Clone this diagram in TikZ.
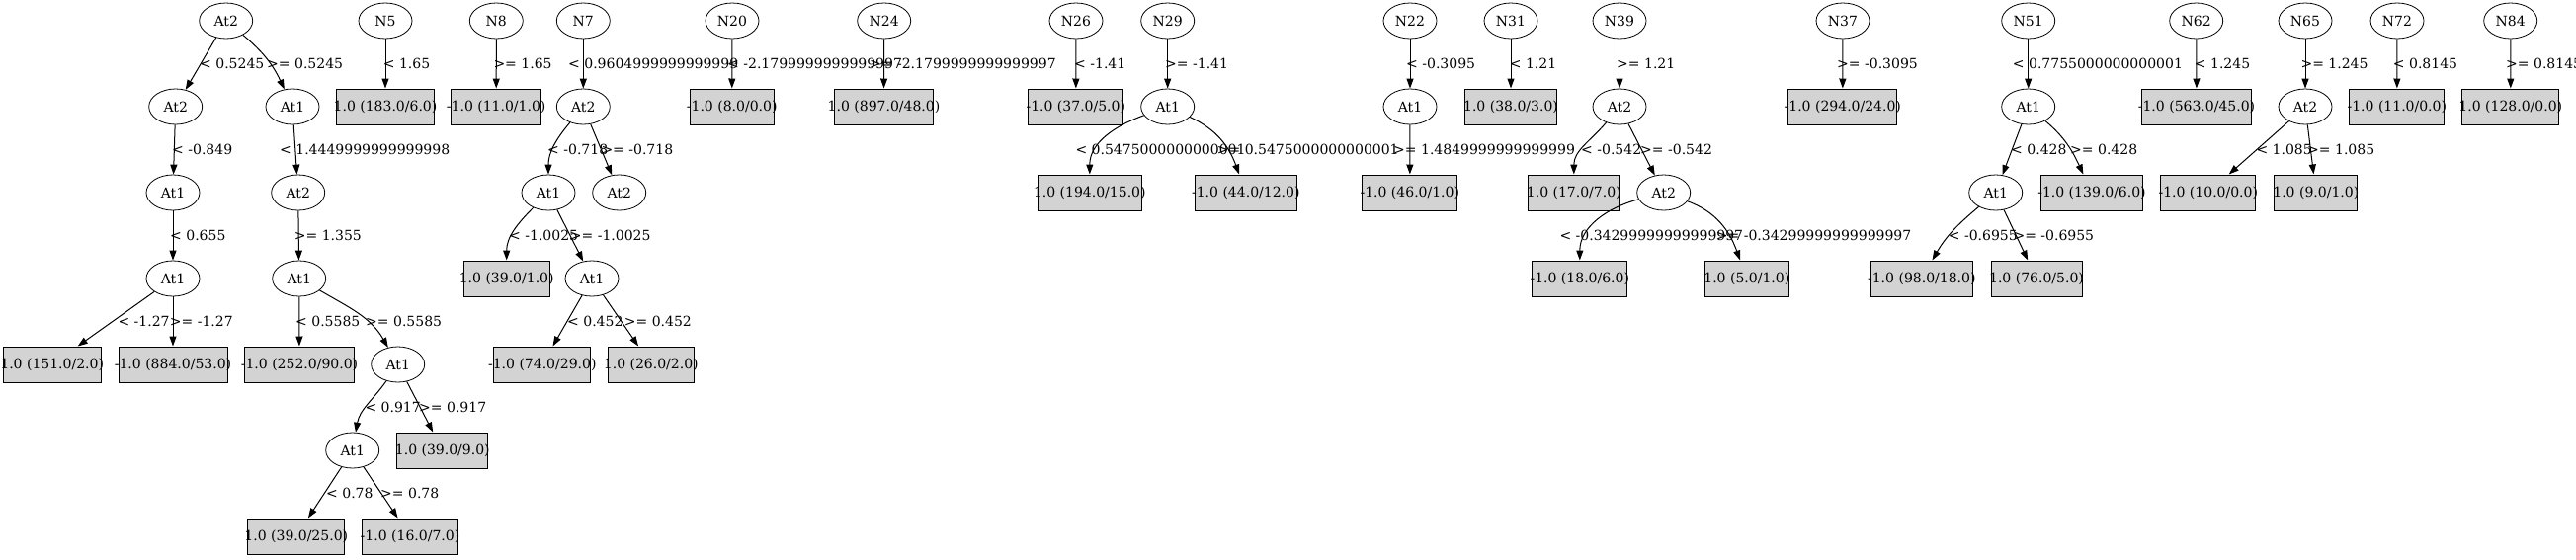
\documentclass[tikz,border=0pt]{standalone}
\usepackage{fontspec}
\setmainfont{DejaVu Serif}
\usetikzlibrary{arrows.meta,shapes.geometric}
\definecolor{leafgray}{HTML}{D3D3D3}
\newcommand\leaftext[1]{\makebox[0pt]{#1}}
\tikzset{
  dec/.style={ellipse, draw, line width=0.8pt, minimum width=54pt, minimum height=36pt, inner sep=0pt},
  leaf/.style={rectangle, draw, fill=leafgray, line width=1pt, minimum width=#1, minimum height=36pt, inner sep=0pt},
  conn/.style={line width=1pt, -{Triangle[length=10pt,width=7pt]}},
  elab/.style={anchor=west, inner sep=0pt},
}
\begin{document}
\begin{tikzpicture}[x=1pt,y=1pt,font=\fontsize{14pt}{17pt}\selectfont]
\useasboundingbox (0,0) rectangle (2607,-566);
% ---------- tree A ----------
\node[dec] (a0) at (228.7,-21) {At2};
\node[dec] (a1) at (177.7,-108) {At2};
\node[dec] (a2) at (296,-108) {At1};
\node[dec] (a3) at (175,-195) {At1};
\node[dec] (a4) at (301.7,-195) {At2};
\node[dec] (a5) at (175,-282) {At1};
\node[dec] (a6) at (302.7,-282) {At1};
\node[leaf=98.7pt] (a7) at (52.7,-369) {\leaftext{1.0 (151.0/2.0)}};
\node[leaf=110pt] (a8) at (175,-369) {\leaftext{-1.0 (884.0/53.0)}};
\node[leaf=110.6pt] (a9) at (303,-369) {\leaftext{-1.0 (252.0/90.0)}};
\node[dec] (a10) at (402.7,-369) {At1};
\node[dec] (a11) at (356.7,-456) {At1};
\node[leaf=92.3pt] (a12) at (447.8,-456) {\leaftext{1.0 (39.0/9.0)}};
\node[leaf=98.3pt] (a13) at (299.8,-543) {\leaftext{1.0 (39.0/25.0)}};
\node[leaf=96.7pt] (a14) at (415,-543) {\leaftext{-1.0 (16.0/7.0)}};
\draw[conn] (a0) -- (a1);
\draw[conn] (a0) to[out=-40,in=115] (a2);
\draw[conn] (a1) -- (a3);
\draw[conn] (a2) -- (a4);
\draw[conn] (a3) -- (a5);
\draw[conn] (a4) -- (a6);
\draw[conn] (a5) -- (a7);
\draw[conn] (a5) -- (a8);
\draw[conn] (a6) -- (a9);
\draw[conn] (a6) to[out=-30,in=120] (a10);
\draw[conn] (a10) to[out=-125,in=80] (a11);
\draw[conn] (a10) -- (a12);
\draw[conn] (a11) -- (a13);
\draw[conn] (a11) -- (a14);
\node[elab] (la1) at (202,-64) {< 0.5245};
\node[elab] (la2) at (270,-64) {>= 0.5245};
\node[elab] (la3) at (174,-151) {< -0.849};
\node[elab] (la4) at (283,-151) {< 1.4449999999999998};
\node[elab] (la5) at (172,-238) {< 0.655};
\node[elab] (la6) at (297.7,-238) {>= 1.355};
\node[elab] (la7) at (119.3,-325) {< -1.27};
\node[elab] (la8) at (171.7,-325) {>= -1.27};
\node[elab] (la9) at (299,-325) {< 0.5585};
\node[elab] (la10) at (370,-325) {>= 0.5585};
\node[elab] (la11) at (369.3,-412) {< 0.917};
\node[elab] (la12) at (424,-412) {>= 0.917};
\node[elab] (la13) at (330,-499) {< 0.78};
\node[elab] (la14) at (385,-499) {>= 0.78};
% ---------- N5, N8 ----------
\node[dec] (n5) at (390,-21) {N5};
\node[leaf=98.3pt] (l5) at (390,-108) {\leaftext{1.0 (183.0/6.0)}};
\draw[conn] (n5) -- (l5);
\node[elab] (ln5) at (387.7,-64) {< 1.65};
\node[dec] (n8) at (502.3,-21) {N8};
\node[leaf=91pt] (l8) at (502.2,-108) {\leaftext{-1.0 (11.0/1.0)}};
\draw[conn] (n8) -- (l8);
\node[elab] (ln8) at (499.3,-64) {>= 1.65};
% ---------- N7 ----------
\node[dec] (n7) at (590.3,-21) {N7};
\node[dec] (b1) at (590.3,-108) {At2};
\node[dec] (b2) at (555,-195) {At1};
\node[dec] (b3) at (626.7,-195) {At2};
\node[leaf=87.3pt] (b4) at (512.7,-282) {\leaftext{1.0 (39.0/1.0)}};
\node[dec] (b5) at (599,-282) {At1};
\node[leaf=97.7pt] (b6) at (548.8,-369) {\leaftext{-1.0 (74.0/29.0)}};
\node[leaf=87pt] (b7) at (658.8,-369) {\leaftext{1.0 (26.0/2.0)}};
\draw[conn] (n7) -- (b1);
\draw[conn] (b1) to[out=-130,in=90] (b2);
\draw[conn] (b1) -- (b3);
\draw[conn] (b2) to[out=-135,in=90] (b4);
\draw[conn] (b2) -- (b5);
\draw[conn] (b5) -- (b6);
\draw[conn] (b5) -- (b7);
\node[elab] (ln7) at (575,-64) {< 0.9604999999999999};
\node[elab] (lb2) at (554,-151) {< -0.718};
\node[elab] (lb3) at (608.3,-151) {>= -0.718};
\node[elab] (lb4) at (515,-238) {< -1.0025};
\node[elab] (lb5) at (576.7,-238) {>= -1.0025};
\node[elab] (lb6) at (574,-325) {< 0.452};
\node[elab] (lb7) at (631.7,-325) {>= 0.452};
% ---------- N20, N24, N26 ----------
\node[dec] (n20) at (741,-21) {N20};
\node[leaf=84.7pt] (l20) at (740.7,-108) {\leaftext{-1.0 (8.0/0.0)}};
\draw[conn] (n20) -- (l20);
\node[elab] (ln20) at (736,-64) {< -2.1799999999999997};
\node[dec] (n24) at (894.7,-21) {N24};
\node[leaf=99.7pt] (l24) at (894.5,-108) {\leaftext{1.0 (897.0/48.0)}};
\draw[conn] (n24) -- (l24);
\node[elab] (ln24) at (880,-64) {>= -2.1799999999999997};
\node[dec] (n26) at (1089,-21) {N26};
\node[leaf=96.3pt] (l26) at (1088.8,-108) {\leaftext{-1.0 (37.0/5.0)}};
\draw[conn] (n26) -- (l26);
\node[elab] (ln26) at (1087,-64) {< -1.41};
% ---------- N29 ----------
\node[dec] (n29) at (1181.7,-21) {N29};
\node[dec] (c1) at (1181.7,-108) {At1};
\node[leaf=105pt] (c2) at (1102.8,-195) {\leaftext{1.0 (194.0/15.0)}};
\node[leaf=103pt] (c3) at (1260.8,-195) {\leaftext{-1.0 (44.0/12.0)}};
\draw[conn] (n29) -- (c1);
\draw[conn] (c1) to[out=-160,in=90] (c2);
\draw[conn] (c1) to[out=-25,in=110] (c3);
\node[elab] (ln29) at (1179,-64) {>= -1.41};
\node[elab] (lc2) at (1088.3,-151) {< 0.5475000000000001};
\node[elab] (lc3) at (1231.7,-151) {>= 0.5475000000000001};
% ---------- N22 ----------
\node[dec] (n22) at (1427,-21) {N22};
\node[dec] (d1) at (1427,-108) {At1};
\node[leaf=95.7pt] (d2) at (1426.8,-195) {\leaftext{-1.0 (46.0/1.0)}};
\draw[conn] (n22) -- (d1);
\draw[conn] (d1) -- (d2);
\node[elab] (ln22) at (1423,-64) {< -0.3095};
\node[elab] (ld2) at (1410,-151) {>= 1.4849999999999999};
% ---------- N31 ----------
\node[dec] (n31) at (1529,-21) {N31};
\node[leaf=92.7pt] (l31) at (1529,-108) {\leaftext{1.0 (38.0/3.0)}};
\draw[conn] (n31) -- (l31);
\node[elab] (ln31) at (1527.7,-64) {< 1.21};
% ---------- N39 ----------
\node[dec] (n39) at (1639,-21) {N39};
\node[dec] (e1) at (1639,-108) {At2};
\node[leaf=92.3pt] (e2) at (1592.8,-195) {\leaftext{1.0 (17.0/7.0)}};
\node[dec] (e3) at (1683.7,-195) {At2};
\node[leaf=96.3pt] (e4) at (1598.8,-282) {\leaftext{-1.0 (18.0/6.0)}};
\node[leaf=85pt] (e5) at (1767.8,-282) {\leaftext{1.0 (5.0/1.0)}};
\draw[conn] (n39) -- (e1);
\draw[conn] (e1) to[out=-130,in=90] (e2);
\draw[conn] (e1) -- (e3);
\draw[conn] (e3) to[out=-165,in=90] (e4);
\draw[conn] (e3) to[out=-20,in=110] (e5);
\node[elab] (ln39) at (1636,-64) {>= 1.21};
\node[elab] (le2) at (1600,-151) {< -0.542};
\node[elab] (le3) at (1660,-151) {>= -0.542};
\node[elab] (le4) at (1578.3,-238) {< -0.34299999999999997};
\node[elab] (le5) at (1736.7,-238) {>= -0.34299999999999997};
% ---------- N37 ----------
\node[dec] (n37) at (1865,-21) {N37};
\node[leaf=110.3pt] (l37) at (1864.8,-108) {\leaftext{-1.0 (294.0/24.0)}};
\draw[conn] (n37) -- (l37);
\node[elab] (ln37) at (1859,-64) {>= -0.3095};
% ---------- N51 ----------
\node[dec] (n51) at (2052.7,-21) {N51};
\node[dec] (f1) at (2052.7,-108) {At1};
\node[dec] (f2) at (2019.7,-195) {At1};
\node[leaf=102.7pt] (f3) at (2117,-195) {\leaftext{-1.0 (139.0/6.0)}};
\node[leaf=103pt] (f4) at (1944.8,-282) {\leaftext{-1.0 (98.0/18.0)}};
\node[leaf=92pt] (f5) at (2061,-282) {\leaftext{1.0 (76.0/5.0)}};
\draw[conn] (n51) -- (f1);
\draw[conn] (f1) -- (f2);
\draw[conn] (f1) to[out=-40,in=115] (f3);
\draw[conn] (f2) to[out=-140,in=60] (f4);
\draw[conn] (f2) -- (f5);
\node[elab] (ln51) at (2036.7,-64) {< 0.7755000000000001};
\node[elab] (lf2) at (2035,-151) {< 0.428};
\node[elab] (lf3) at (2095,-151) {>= 0.428};
\node[elab] (lf4) at (1971.7,-238) {< -0.6955};
\node[elab] (lf5) at (2037.3,-238) {>= -0.6955};
% ---------- N62 ----------
\node[dec] (n62) at (2222.7,-21) {N62};
\node[leaf=110.7pt] (l62) at (2223,-108) {\leaftext{-1.0 (563.0/45.0)}};
\draw[conn] (n62) -- (l62);
\node[elab] (ln62) at (2220.7,-64) {< 1.245};
% ---------- N65 ----------
\node[dec] (n65) at (2333,-21) {N65};
\node[dec] (g1) at (2333,-108) {At2};
\node[leaf=96.3pt] (g2) at (2234.8,-195) {\leaftext{-1.0 (10.0/0.0)}};
\node[leaf=84.3pt] (g3) at (2343.8,-195) {\leaftext{1.0 (9.0/1.0)}};
\draw[conn] (n65) -- (g1);
\draw[conn] (g1) -- (g2);
\draw[conn] (g1) -- (g3);
\node[elab] (ln65) at (2328.3,-64) {>= 1.245};
\node[elab] (lg2) at (2283.3,-151) {< 1.085};
\node[elab] (lg3) at (2335,-151) {>= 1.085};
% ---------- N72, N84 ----------
\node[dec] (n72) at (2426,-21) {N72};
\node[leaf=96.3pt] (l72) at (2425.8,-108) {\leaftext{-1.0 (11.0/0.0)}};
\draw[conn] (n72) -- (l72);
\node[elab] (ln72) at (2421.7,-64) {< 0.8145};
\node[dec] (n84) at (2540.7,-21) {N84};
\node[leaf=97.7pt] (l84) at (2540.8,-108) {\leaftext{1.0 (128.0/0.0)}};
\draw[conn] (n84) -- (l84);
\node[elab] (ln84) at (2536,-64) {>= 0.8145};
\end{tikzpicture}
\end{document}
